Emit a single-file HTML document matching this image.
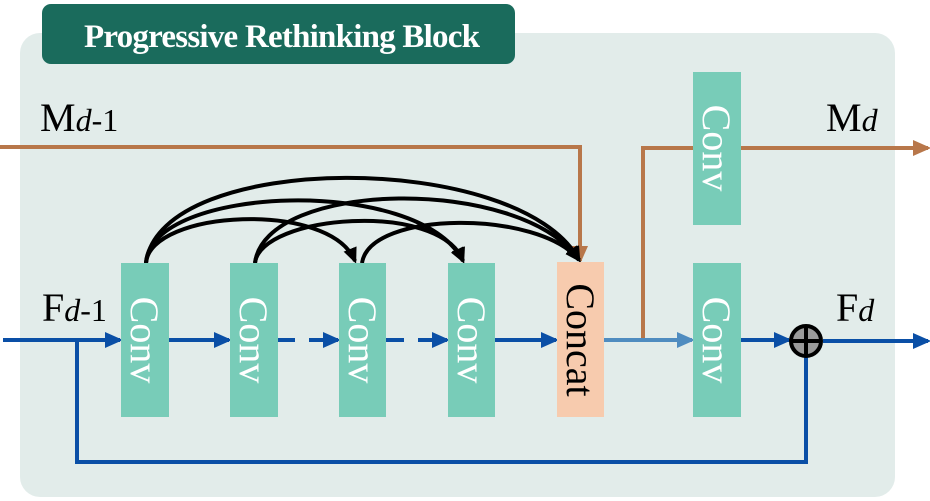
<!DOCTYPE html>
<html><head><meta charset="utf-8"><style>
html,body{margin:0;padding:0;background:#fff;}
svg{display:block;}
text{font-family:"Liberation Serif",serif;}
</style></head><body>
<svg width="930" height="501" viewBox="0 0 930 501" xmlns="http://www.w3.org/2000/svg">
<defs>
<marker id="ab" markerWidth="18" markerHeight="16" refX="15" refY="8" orient="auto" markerUnits="userSpaceOnUse"><path d="M0,0 L18,8 L0,16 z" fill="#0a4fa6"/></marker>
<marker id="al" markerWidth="18" markerHeight="16" refX="15" refY="8" orient="auto" markerUnits="userSpaceOnUse"><path d="M0,0 L18,8 L0,16 z" fill="#4f8cc0"/></marker>
<marker id="ao" markerWidth="18" markerHeight="16" refX="15" refY="8" orient="auto" markerUnits="userSpaceOnUse"><path d="M0,0 L18,8 L0,16 z" fill="#b8774a"/></marker>
<marker id="ak" markerWidth="16" markerHeight="14" refX="13" refY="7" orient="auto" markerUnits="userSpaceOnUse"><path d="M0,0 L16,7 L0,14 z" fill="#000"/></marker>
</defs>
<rect x="20" y="33" width="875" height="464" rx="20" fill="#e2ecea"/>
<rect x="42" y="4" width="473" height="60" rx="9" fill="#1a6b5c"/>
<text x="282" y="47" text-anchor="middle" font-size="33" font-weight="bold" fill="#fff" textLength="396">Progressive Rethinking Block</text>

<text x="40" y="131" font-size="40">M<tspan font-style="italic" font-size="32">d</tspan><tspan font-size="32">-1</tspan></text>
<text x="42" y="321" font-size="40">F<tspan font-style="italic" font-size="32">d</tspan><tspan font-size="32">-1</tspan></text>
<text x="826" y="131" font-size="40">M<tspan font-style="italic" font-size="32">d</tspan></text>
<text x="836" y="321" font-size="40">F<tspan font-style="italic" font-size="32">d</tspan></text>

<polyline points="0,147 580,147 580,261" fill="none" stroke="#b8774a" stroke-width="4" marker-end="url(#ao)"/>
<polyline points="643,340 643,148 928,148" fill="none" stroke="#b8774a" stroke-width="4" marker-end="url(#ao)"/>

<line x1="3" y1="340" x2="120" y2="340" stroke="#0a4fa6" stroke-width="4" marker-end="url(#ab)"/>
<line x1="169" y1="340" x2="229" y2="340" stroke="#0a4fa6" stroke-width="4" marker-end="url(#ab)"/>
<line x1="278" y1="340" x2="295" y2="340" stroke="#0a4fa6" stroke-width="4"/>
<line x1="309" y1="340" x2="338" y2="340" stroke="#0a4fa6" stroke-width="4" marker-end="url(#ab)"/>
<line x1="386" y1="340" x2="404" y2="340" stroke="#0a4fa6" stroke-width="4"/>
<line x1="418" y1="340" x2="447" y2="340" stroke="#0a4fa6" stroke-width="4" marker-end="url(#ab)"/>
<line x1="495" y1="340" x2="556" y2="340" stroke="#0a4fa6" stroke-width="4" marker-end="url(#ab)"/>
<line x1="604" y1="340" x2="692" y2="340" stroke="#4f8cc0" stroke-width="4" marker-end="url(#al)"/>
<line x1="741" y1="340" x2="789" y2="340" stroke="#0a4fa6" stroke-width="4" marker-end="url(#ab)"/>
<line x1="823" y1="341" x2="928" y2="341" stroke="#0a4fa6" stroke-width="4" marker-end="url(#ab)"/>
<polyline points="77,340 77,462 806,462 806,357" fill="none" stroke="#0a4fa6" stroke-width="4"/>

<g fill="none" stroke="#000" stroke-width="4">
<path d="M146,263 C150,210 330,200 355,261" marker-end="url(#ak)"/>
<path d="M146,263 C150,185 420,175 463,261" marker-end="url(#ak)"/>
<path d="M146,263 C160,150 520,150 579,260" marker-end="url(#ak)"/>
<path d="M255,263 C260,215 440,200 463,261" marker-end="url(#ak)"/>
<path d="M255,263 C265,180 520,175 579,260" marker-end="url(#ak)"/>
<path d="M362,263 C370,210 540,210 579,260" marker-end="url(#ak)"/>
</g>

<g fill="#78ccb8">
<rect x="121" y="263" width="48" height="154"/>
<rect x="230" y="263" width="48" height="154"/>
<rect x="339" y="263" width="47" height="154"/>
<rect x="448" y="263" width="47" height="154"/>
<rect x="693" y="263" width="48" height="154"/>
<rect x="693" y="72" width="48" height="153"/>
</g>
<rect x="557" y="262" width="47" height="155" fill="#f7cbae"/>
<g font-size="40" fill="#fff">
<text transform="translate(131,340) rotate(90)" text-anchor="middle">Conv</text>
<text transform="translate(240,340) rotate(90)" text-anchor="middle">Conv</text>
<text transform="translate(349,340) rotate(90)" text-anchor="middle">Conv</text>
<text transform="translate(458,340) rotate(90)" text-anchor="middle">Conv</text>
<text transform="translate(703,340) rotate(90)" text-anchor="middle">Conv</text>
<text transform="translate(703,148) rotate(90)" text-anchor="middle">Conv</text>
</g>
<text transform="translate(567,340) rotate(90)" text-anchor="middle" font-size="40" fill="#000">Concat</text>

<circle cx="806" cy="341" r="15" fill="#9a9a9a" stroke="#000" stroke-width="4"/>
<line x1="791" y1="341" x2="821" y2="341" stroke="#000" stroke-width="4"/>
<line x1="806" y1="326" x2="806" y2="356" stroke="#000" stroke-width="4"/>
</svg>
</body></html>
